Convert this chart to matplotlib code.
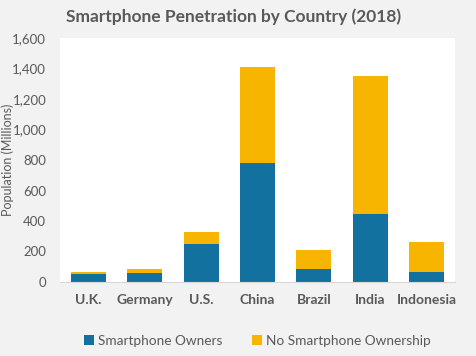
import matplotlib
matplotlib.use('Agg')
import matplotlib.pyplot as plt
from matplotlib.ticker import FuncFormatter

countries = ['U.K.', 'Germany', 'U.S.', 'China', 'Brazil', 'India', 'Indonesia']
owners = [55, 62, 250, 780, 83, 447, 68]
no_owners = [11, 21, 77, 632, 125, 906, 195]

blue = '#13719f'
yellow = '#f7b500'
grey = '#595959'

plt.rcParams['font.family'] = ['Lato', 'DejaVu Sans']

fig = plt.figure(figsize=(4.77, 3.56), dpi=100, facecolor='#f2f2f2')
ax = fig.add_axes([60 / 477, 1 - 282 / 356, 395 / 477, 244 / 356])
ax.set_facecolor('white')

x = range(len(countries))
ax.bar(x, owners, width=0.62, color=blue, label='Smartphone Owners')
ax.bar(x, no_owners, width=0.62, bottom=owners, color=yellow,
       label='No Smartphone Ownership')

ax.set_xlim(-0.5, 6.5)
ax.set_ylim(0, 1600)
ax.set_yticks(range(0, 1601, 200))
ax.yaxis.set_major_formatter(FuncFormatter(lambda v, p: f'{int(v):,}'))
ax.set_xticks(list(x))
ax.set_xticklabels(countries, fontweight='bold')

for s in ['top', 'right', 'left']:
    ax.spines[s].set_visible(False)
ax.spines['bottom'].set_color('#d9d9d9')
ax.tick_params(length=0, colors=grey, labelsize=10)
ax.tick_params(axis='y', labelsize=9.5, pad=10)
ax.tick_params(axis='x', pad=9)

fig.text(8 / 477, 1 - 160 / 356, 'Population (Millions)', rotation=90,
         ha='center', va='center', color=grey, fontsize=9)

fig.text(0.49, 1 - 17 / 356, 'Smartphone Penetration by Country (2018)',
         ha='center', va='center', fontsize=12.5, fontweight='bold', color=grey)

ax.legend(loc='center', bbox_to_anchor=(0.5, -0.24), ncol=2, frameon=False,
          fontsize=9.8, labelcolor=grey, handlelength=0.7, handleheight=0.7,
          handletextpad=0.3, columnspacing=2.2)

fig.savefig('out.png', dpi=100, facecolor=fig.get_facecolor())
